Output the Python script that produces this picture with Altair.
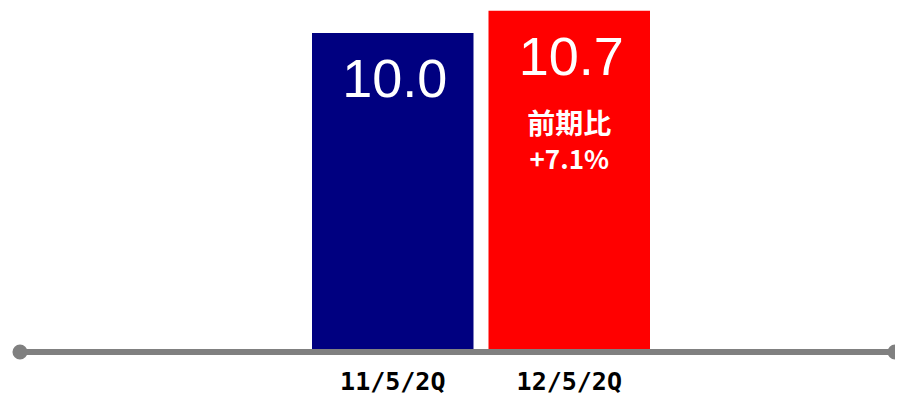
import altair as alt
import pandas as pd

periods = ["11/5/2Q", "12/5/2Q"]
values = [10.0, 10.7]
value_labels = ["10.0", "10.7"]
bar_colors = ["#000080", "#FF0000"]
note_period = ["12/5/2Q"]
note_value = [10.7]
note_line1 = ["前期比"]
note_line2 = ["+7.1%"]

df = pd.DataFrame({"period": periods, "value": values, "label": value_labels})
notes = pd.DataFrame({"period": note_period, "value": note_value,
                      "l1": note_line1, "l2": note_line2})

x_enc = alt.X(
    "period:N",
    sort=periods,
    scale=alt.Scale(domain=periods, range=[292, 630], paddingInner=0.085, paddingOuter=0),
    axis=alt.Axis(
        title=None, labelAngle=0, grid=False, ticks=False, tickSize=0,
        domain=False, offset=3,
        labelPadding=29, labelBaseline="middle",
        labelFont="DejaVu Sans Mono", labelFontWeight="bold",
        labelFontSize=25, labelColor="#000000",
    ),
)
y_enc = alt.Y("value:Q", scale=alt.Scale(domain=[0, 10.79], nice=False, zero=True), axis=None)

bars = alt.Chart(df).mark_bar().encode(
    x=x_enc, y=y_enc,
    color=alt.Color("period:N", scale=alt.Scale(domain=periods, range=bar_colors), legend=None),
)

vals = alt.Chart(df).mark_text(
    font="Liberation Sans", fontSize=54, color="white", baseline="alphabetic", dy=64, dx=2
).encode(x=x_enc, y=y_enc, text="label:N")

n1 = alt.Chart(notes).mark_text(
    font="Noto Sans CJK JP", fontWeight="bold", fontSize=28, color="white", baseline="middle", dy=115
).encode(x=x_enc, y=y_enc, text="l1:N")

n2 = alt.Chart(notes).mark_text(
    font="Noto Sans CJK JP", fontWeight="bold", fontSize=26, color="white", baseline="middle", dy=150
).encode(x=x_enc, y=y_enc, text="l2:N")

one = alt.Data(values=[{"a": 1}])
base_rule = alt.Chart(one).mark_rule(color="#808080", strokeWidth=6).encode(
    x=alt.value(0), x2=alt.value(875), y=alt.value(344))
dot_l = alt.Chart(one).mark_circle(size=227, color="#808080", opacity=1).encode(
    x=alt.value(0), y=alt.value(344))
dot_r = alt.Chart(one).mark_circle(size=227, color="#808080", opacity=1).encode(
    x=alt.value(875), y=alt.value(344))

chart = alt.layer(bars, base_rule, dot_l, dot_r, vals, n1, n2).properties(
    width=875, height=341,
    autosize=alt.AutoSizeParams(type="none"),
    padding={"left": 12, "right": 0, "top": 0, "bottom": 46},
    background="white",
).configure_view(stroke=None)

chart.save("out.html", embed_options={"renderer": "svg", "actions": False})
